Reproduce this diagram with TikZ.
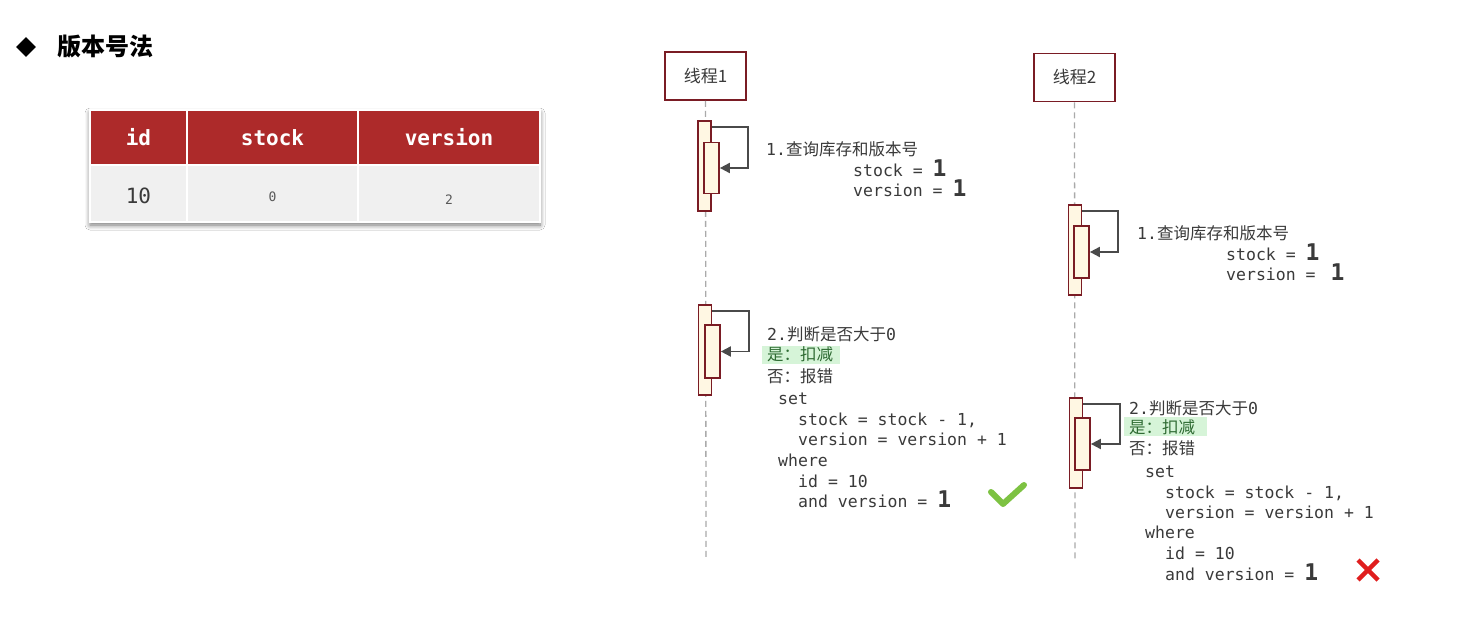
\documentclass[tikz,border=0pt]{standalone}
\usepackage{fontspec}
\setmainfont{DejaVu Sans}
\newfontfamily\cjk{Noto Sans CJK SC}
\newfontfamily\monof{DejaVu Sans Mono}
\usetikzlibrary{arrows.meta,shapes.geometric,shadows.blur}
\definecolor{hdr}{HTML}{AD2A2A}
\definecolor{rowbg}{HTML}{F0F0F0}
\definecolor{brd}{HTML}{7A1C24}
\definecolor{barfill}{HTML}{FFF7E3}
\definecolor{txt}{HTML}{3A3A3A}
\definecolor{arr}{HTML}{4A4A4A}
\definecolor{lifec}{HTML}{AAAAAA}
\definecolor{hl}{HTML}{D6F4D8}
\definecolor{hltxt}{HTML}{2F6B33}
\definecolor{okc}{HTML}{7DC242}
\definecolor{noc}{HTML}{E01E1E}
\newcommand{\codef}{\fontsize{16.5}{20}\monof}
\newcommand{\cjkf}{\fontsize{16.5}{20}\cjk}
\newcommand{\bigone}{{\fontsize{23}{23}\monof\bfseries 1}}
\tikzset{
  code/.style={anchor=base west, inner sep=0pt, font=\codef, text=txt},
  thread/.style={draw=brd, line width=1.8pt, fill=white, minimum width=81, minimum height=48, inner sep=0pt, font=\fontsize{17}{20}\cjk, text=txt},
  life/.style={draw=lifec, line width=1.3pt, dash pattern=on 6pt off 4pt},
  barout/.style={draw=brd, line width=1.7pt, fill=barfill, minimum width=13, minimum height=90, inner sep=0pt},
  barin/.style={draw=brd, line width=1.7pt, fill=barfill, minimum width=15, minimum height=51, inner sep=0pt},
  msg/.style={draw=arr, line width=1.8pt, -{Triangle[length=10pt,width=10pt]}},
  hcell/.style={fill=hdr, draw=white, line width=1.5pt, inner sep=0pt, text=white, font=\fontsize{21}{22}\monof\bfseries},
  bcell/.style={fill=rowbg, draw=white, line width=1.5pt, inner sep=0pt, text=txt},
}
\begin{document}
\begin{tikzpicture}[x=1pt,y=-1pt]
\useasboundingbox (0,0) rectangle (1481,620);
\fill[white] (0,0) rectangle (1481,620);

% title
\node[diamond, fill=black, inner sep=0pt, minimum width=20, minimum height=20] (dia) at (26,47) {};
\node[anchor=west, inner sep=0pt, font=\fontsize{24}{26}\cjk\bfseries, text=black] (title) at (57,47) {版本号法};

% table
\fill[rowbg, blur shadow={shadow xshift=0pt, shadow yshift=-3pt, shadow blur radius=5pt, shadow blur steps=8, shadow opacity=55}] (90,110) rectangle (540,222);
\node[hcell, minimum width=97, minimum height=55] (h1) at (138.5,137.5) {id};
\node[hcell, minimum width=171, minimum height=55] (h2) at (272.5,137.5) {stock};
\node[hcell, minimum width=182, minimum height=55] (h3) at (449,137.5) {version};
\node[bcell, minimum width=97, minimum height=57, font=\fontsize{21}{22}\monof] (c1) at (138.5,193.5) {\raisebox{-10pt}[0pt][0pt]{10}};
\node[bcell, minimum width=171, minimum height=57, font=\fontsize{13}{14}\monof, text=black!65] (c2) at (272.5,193.5) {\raisebox{-8pt}[0pt][0pt]{0}};
\node[bcell, minimum width=182, minimum height=57, font=\fontsize{13}{14}\monof, text=black!65] (c3) at (449,193.5) {\raisebox{-11pt}[0pt][0pt]{2}};

% threads and lifelines
\coordinate (l1e) at (706,560);
\coordinate (l2e) at (1075,562);
\node[thread] (t1) at (705.5,76) {线程1};
\node[thread] (t2) at (1074.5,77.5) {线程2};
\draw[life] (t1.south) -- (l1e);
\draw[life] (t2.south) -- (l2e);

% thread 1, step 1
\node[barout] (a1o) at (704.5,166) {};
\node[barin] (a1i) at (711.5,168) {};
\draw[msg] ([yshift=-7pt]a1o.north east) -- ++(36,0) |- (a1i.east);
\node[code] (a1t1) at (766,156) {1.{\cjkf 查询库存和版本号}};
\node[code] (a1t2) at (853,177) {stock = \bigone};
\node[code] (a1t3) at (853,197) {version = \bigone};

% thread 1, step 2
\node[barout] (b1o) at (705,350) {};
\node[barin, minimum height=53] (b1i) at (712.5,351.5) {};
\draw[msg] ([yshift=-7pt]b1o.north east) -- ++(37,0) |- (b1i.east);
\fill[hl] (762,346) rectangle (840,364);
\node[code] (b1t1) at (767,341) {2.{\cjkf 判断是否大于}0};
\node[code, text=hltxt] (b1t2) at (767,361) {\cjkf 是：扣减};
\node[code] (b1t3) at (767,382) {\cjkf 否：报错};
\node[code] (b1t4) at (778,404) {set};
\node[code] (b1t5) at (798,425) {stock = stock - 1,};
\node[code] (b1t6) at (798,445) {version = version + 1};
\node[code] (b1t7) at (778,466) {where};
\node[code] (b1t8) at (798,487) {id = 10};
\node[code] (b1t9) at (798,507) {and version = \bigone};
\draw[okc, line width=6pt, line cap=round, line join=round] (991,492) -- (1003,504) -- (1024,485);

% thread 2, step 1
\node[barout] (a2o) at (1075,250) {};
\node[barin, minimum height=52] (a2i) at (1081.5,252) {};
\draw[msg] ([yshift=-7pt]a2o.north east) -- ++(36,0) |- (a2i.east);
\node[code] (a2t1) at (1137,240) {1.{\cjkf 查询库存和版本号}};
\node[code] (a2t2) at (1226,261) {stock = \bigone};
\node[code] (a2t3) at (1226,281) {version = \hspace{5pt}\bigone};

% thread 2, step 2
\node[barout] (b2o) at (1076,443) {};
\node[barin, minimum height=52] (b2i) at (1082.5,444) {};
\draw[msg] ([yshift=-7pt]b2o.north east) -- ++(37,0) |- (b2i.east);
\fill[hl] (1124,417) rectangle (1207,436);
\node[code] (b2t1) at (1129,414) {2.{\cjkf 判断是否大于}0};
\node[code, text=hltxt] (b2t2) at (1129,433) {\cjkf 是：扣减};
\node[code] (b2t3) at (1129,454) {\cjkf 否：报错};
\node[code] (b2t4) at (1145,477) {set};
\node[code] (b2t5) at (1165,498) {stock = stock - 1,};
\node[code] (b2t6) at (1165,518) {version = version + 1};
\node[code] (b2t7) at (1145,538) {where};
\node[code] (b2t8) at (1165,559) {id = 10};
\node[code] (b2t9) at (1165,580) {and version = \bigone};
\draw[noc, line width=4.5pt] (1358,560) -- (1378,580);
\draw[noc, line width=4.5pt] (1378,560) -- (1358,580);
\end{tikzpicture}
\end{document}
